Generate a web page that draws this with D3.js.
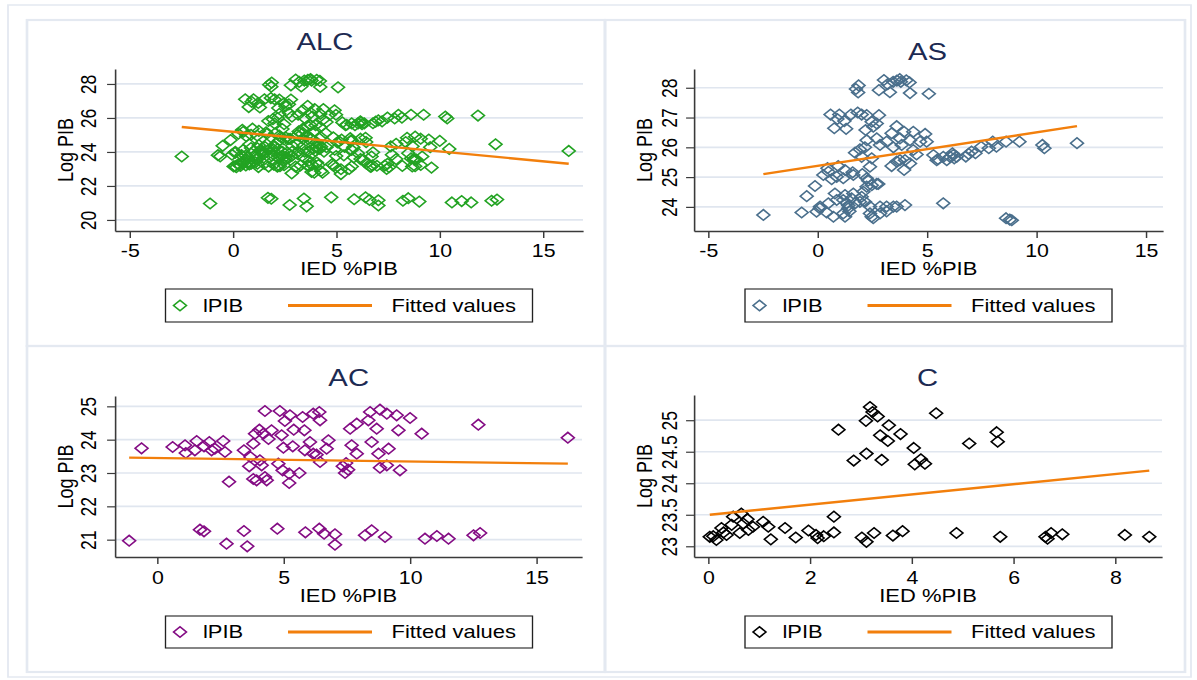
<!DOCTYPE html>
<html>
<head>
<meta charset="utf-8">
<script src="https://cdn.jsdelivr.net/npm/d3@7"></script>
<style>
body{margin:0;background:#fff;}
svg{display:block;}
text{font-family:"Liberation Sans",Arial,sans-serif;}
</style>
</head>
<body>
<svg id="chart"></svg>
<script>

// ---- data (IED %PIB, Log PIB) ----
var asPoints = [
  [1.87,28.08],[1.75,27.96],[1.85,27.84],[2.80,27.92],[3.03,28.26],[3.20,28.12],[3.30,27.85],[3.45,28.20],
  [3.62,28.24],[3.75,28.29],[3.80,28.20],[4.05,28.25],[4.20,28.18],[4.22,27.82],[5.08,27.80],
  [0.59,27.10],[0.76,26.64],[0.99,27.10],[1.22,26.88],[1.30,26.62],[1.52,27.10],[1.83,27.17],[2.01,27.10],
  [2.24,27.08],[2.19,26.58],[2.47,26.86],[2.54,26.69],[2.80,27.08],[2.70,26.80],[0.90,26.95],
  [3.61,26.71],[3.38,26.47],[3.95,26.52],[4.37,26.52],[4.91,26.45],
  [2.24,26.24],[2.70,26.30],[3.15,26.19],[3.76,26.30],[4.22,26.24],[4.68,26.19],[4.98,26.19],
  [1.93,25.93],[2.16,26.00],[2.85,26.08],[3.46,26.00],[3.84,26.08],[4.37,25.91],[4.52,25.76],[5.29,25.74],
  [5.74,25.68],[6.20,25.74],[6.35,25.68],
  [1.71,25.82],[2.01,25.68],[2.47,25.63],[3.76,25.57],[3.99,25.57],[5.44,25.57],[5.90,25.57],[6.05,25.68],
  [0.94,25.37],[1.25,25.24],[2.39,25.35],[3.38,25.37],[3.61,25.52],[3.95,25.24],[4.22,25.46],
  [0.26,25.07],[0.49,25.18],[0.87,25.01],[1.17,24.96],[1.63,25.07],[2.24,24.96],[2.47,24.73],[2.77,24.77],
  [2.24,24.68],[0.64,24.93],[1.60,25.16],[2.04,25.10],[2.31,24.88],[0.45,25.30],
  [-0.12,24.70],[-0.50,24.36],[0.79,24.45],[1.25,24.40],[1.63,24.45],[2.09,24.51],[2.01,24.34],[2.70,24.77],
  [0.11,24.01],[0.49,24.12],[0.87,24.23],[1.17,24.23],[1.33,24.12],[1.55,24.29],[1.71,24.12],[1.93,24.17],
  [2.16,24.17],[2.39,24.01],[2.85,24.01],[3.15,24.01],[3.46,24.01],[3.61,24.01],[3.99,24.06],[5.74,24.12],
  [1.40,24.05],[1.40,23.95],[1.45,23.85],
  [-2.48,23.73],[-0.73,23.81],[-0.05,23.84],[0.41,23.81],[0.72,23.67],[1.17,23.78],[1.25,23.67],[2.39,23.78],
  [2.47,23.67],[2.54,23.62],[2.85,23.78],[3.15,23.85],[0.10,23.95],
  [8.61,23.62],[8.78,23.57],[8.87,23.55],
  [6.16,25.80],[6.24,25.63],[6.77,25.69],[7.03,25.86],[7.21,25.80],[7.47,26.02],[7.82,25.97],[8.00,26.19],
  [8.17,26.02],[8.61,26.19],[9.22,26.19],[10.27,26.08],[10.36,25.97],[11.85,26.14],[5.50,25.60],[6.90,25.78]
];

var acPoints = [
  [-1.11,20.97],[-0.62,23.74],[0.61,23.78],[1.10,23.83],[1.13,23.60],[1.56,23.96],[1.49,23.68],[1.85,23.80],
  [2.06,23.93],[2.28,23.73],[2.15,23.68],[2.61,23.96],[2.68,23.63],[2.84,22.74],[1.69,21.30],[1.85,21.25],
  [2.74,20.88],[3.43,21.26],[3.56,20.80],[3.43,23.68],[3.69,23.48],[3.64,23.20],[3.80,23.88],[3.87,24.18],
  [4.04,24.30],[3.80,22.82],[3.93,22.78],[4.26,22.88],[4.33,22.78],[4.20,24.18],[4.26,24.86],[4.13,23.23],
  [4.06,23.38],[4.52,24.28],[4.85,24.86],[4.92,24.13],[4.99,23.76],[4.75,21.33],[4.79,23.28],[5.25,24.73],
  [5.05,24.56],[4.96,23.08],[5.22,22.98],[5.22,22.70],[5.62,23.00],[5.36,23.80],[5.75,24.68],[5.82,24.28],
  [5.84,23.68],[6.04,23.93],[5.86,21.22],[6.17,24.78],[6.41,24.83],[6.44,24.58],[6.41,21.33],[6.60,21.18],
  [6.44,23.33],[6.17,23.58],[6.77,23.98],[6.70,23.73],[7.03,21.16],[7.03,20.85],[7.34,23.20],[7.43,23.00],
  [7.47,23.30],[7.63,24.33],[7.69,23.83],[4.40,24.02],[5.40,24.30],[6.30,23.55],[7.55,23.10],
  [7.89,24.48],[8.35,24.58],[8.42,24.83],[8.81,24.90],[9.08,24.78],[9.47,24.73],[10.00,24.65],[8.68,24.33],
  [9.54,24.28],[10.46,24.18],[8.48,23.93],[9.15,23.73],[7.89,23.58],[8.75,23.58],[8.81,23.16],[9.08,23.23],
  [9.60,23.08],[8.22,21.13],[8.48,21.28],[9.01,21.08],[10.59,21.03],[11.06,21.11],[11.52,21.03],[12.51,21.13],
  [12.77,21.20],[12.70,24.45],[16.24,24.06]
];

var cPoints = [
  [0.03,23.15],[0.10,23.16],[0.16,23.10],[0.26,23.29],[0.36,23.18],[0.46,23.34],[0.49,23.47],[0.62,23.21],
  [0.69,23.36],[0.79,23.26],[0.77,23.43],[0.88,23.31],[1.08,23.39],[1.18,23.31],[1.23,23.11],[1.51,23.29],
  [1.72,23.14],[1.97,23.25],[2.12,23.18],[2.15,23.13],[2.27,23.16],[2.47,23.47],[2.47,23.22],[3.02,23.14],
  [3.11,23.07],[3.26,23.21],[3.63,23.17],[3.82,23.24],[4.88,23.21],[0.65,23.52],[0.30,23.22],
  [3.18,25.21],[3.23,25.13],[3.33,25.06],[3.10,24.99],[3.55,24.92],[3.78,24.78],[3.38,24.76],[3.53,24.67],
  [4.04,24.56],[3.11,24.47],[2.86,24.36],[3.41,24.37],[4.06,24.30],[4.18,24.38],[4.26,24.31],[4.48,25.11],
  [5.13,24.63],[2.56,24.85],[5.67,24.81],[5.69,24.66],
  [5.74,23.15],[6.63,23.15],[6.67,23.12],[6.74,23.21],[6.96,23.19],[8.19,23.18],[8.67,23.15]
];

// ALC is the whole region: South America + Central America + Caribbean
var alcPoints = asPoints.concat(acPoints, cPoints);

// fitted values, read at the ends of each line
var alcFit = [[-2.48,25.47],[16.24,23.31]];
var asFit  = [[-2.48,25.10],[11.85,26.71]];
var acFit  = [[-1.11,23.46],[16.24,23.28]];
var cFit   = [[0.03,23.50],[8.67,24.20]];

var alcXTicks = [-5,0,5,10,15], alcYTicks = [20,22,24,26,28];
var asXTicks  = [-5,0,5,10,15], asYTicks  = [24,25,26,27,28];
var acXTicks  = [0,5,10,15],    acYTicks  = [21,22,23,24,25];
var cXTicks   = [0,2,4,6,8],    cYTicks   = [23,23.5,24,24.5,25];

// ---- drawing ----
// the original graph is stretched sideways, so draw in a narrower box and stretch it
var S = 1.22;
var W = 1197, H = 680;
var sx = function(x){ return x / S; };

var svg = d3.select("#chart")
    .attr("width",W)
    .attr("height",H)
    .attr("viewBox","0 0 "+(W/S)+" "+H)
    .attr("preserveAspectRatio","none");

svg.append("rect")
    .attr("x",sx(8)).attr("y",5)
    .attr("width",sx(1191)-sx(8)).attr("height",672)
    .attr("fill","none").attr("stroke","#e4e9f1").attr("stroke-width",1.5);

var diamond = function(r){
    return "M0,"+(-r)+"L"+r+",0L0,"+r+"L"+(-r)+",0Z";
};
var FIT = "#f27f0c";
var GRID = "#e0e6ef";
var AX = "#3a3a3a";

var drawPanel = function(cfg)
{
    var p = cfg.plot;
    var g = svg.append("g");

    g.append("rect")
        .attr("x",sx(cfg.box[0])).attr("y",cfg.box[1])
        .attr("width",sx(cfg.box[2])-sx(cfg.box[0])).attr("height",cfg.box[3]-cfg.box[1])
        .attr("fill","none").attr("stroke","#e4e9f1").attr("stroke-width",2.2);

    var xScale = d3.scaleLinear().domain(cfg.xDomain).range([sx(p.left),sx(p.right)]);
    var yScale = d3.scaleLinear().domain(cfg.yDomain).range([p.bottom,p.top]);

    g.selectAll(".grid")
        .data(cfg.yTicks)
        .enter()
        .append("line")
        .attr("x1",xScale.range()[0]).attr("x2",xScale.range()[1])
        .attr("y1",function(d){return yScale(d);})
        .attr("y2",function(d){return yScale(d);})
        .attr("stroke",GRID).attr("stroke-width",1.7);

    g.append("g")
        .selectAll("path")
        .data(cfg.points)
        .enter()
        .append("path")
        .attr("d",diamond(5.3))
        .attr("transform",function(d){return "translate("+xScale(d[0])+","+yScale(d[1])+")";})
        .attr("fill","none")
        .attr("stroke",cfg.color)
        .attr("stroke-width",1.45);

    var line = d3.line()
        .x(function(d){return xScale(d[0]);})
        .y(function(d){return yScale(d[1]);});
    g.append("path")
        .datum(cfg.fit)
        .attr("d",line)
        .attr("fill","none").attr("stroke",FIT).attr("stroke-width",2.4);

    // x axis
    var xg = g.append("g")
        .attr("transform","translate(0,"+p.bottom+")")
        .call(d3.axisBottom(xScale).tickValues(cfg.xTicks).tickSize(7).tickSizeOuter(0).tickFormat(String));
    xg.select(".domain").attr("stroke",AX).attr("stroke-width",1.3);
    xg.selectAll(".tick line").attr("stroke",AX).attr("stroke-width",1.2);
    xg.selectAll(".tick text")
        .attr("y",cfg.xTickY-p.bottom).attr("dy",null)
        .attr("font-size",17.5).attr("fill","#000");

    // y axis, labels turned on their side
    var yg = g.append("g")
        .attr("transform","translate("+sx(p.left)+",0)")
        .call(d3.axisLeft(yScale).tickValues(cfg.yTicks).tickSize(6.5).tickSizeOuter(0).tickFormat(String));
    yg.select(".domain").attr("stroke",AX).attr("stroke-width",1.3);
    yg.selectAll(".tick line").attr("stroke",AX).attr("stroke-width",1.2);
    yg.selectAll(".tick text")
        .attr("x",0).attr("dy",null)
        .attr("text-anchor","middle")
        .attr("font-size",17.5).attr("fill","#000")
        .attr("transform","translate("+(sx(cfg.yTickX)-sx(p.left))+",0) rotate(-90)");

    // labels
    g.append("text")
        .text(cfg.name)
        .attr("x",sx(cfg.title[0])).attr("y",cfg.title[1])
        .attr("text-anchor","middle").attr("font-size",24).attr("fill","#1c2a52");
    g.append("text")
        .text("IED %PIB")
        .attr("x",sx((p.left+p.right)/2)).attr("y",cfg.xTitleY)
        .attr("text-anchor","middle").attr("font-size",18).attr("fill","#000");
    g.append("text")
        .text("Log PIB")
        .attr("transform","translate("+sx(cfg.yTitleX)+","+((p.top+p.bottom)/2)+") rotate(-90)")
        .attr("text-anchor","middle").attr("font-size",18).attr("fill","#000");

    // legend
    var L = cfg.legend;
    var cy = (L[1]+L[3])/2;
    var lg = g.append("g");
    lg.append("rect")
        .attr("x",sx(L[0])).attr("y",L[1])
        .attr("width",sx(L[2])-sx(L[0])).attr("height",L[3]-L[1])
        .attr("fill","#fff").attr("stroke","#222").attr("stroke-width",1.1);
    lg.append("path")
        .attr("d",diamond(5.3))
        .attr("transform","translate("+sx(L[0]+14.5)+","+cy+")")
        .attr("fill","none").attr("stroke",cfg.color).attr("stroke-width",1.45);
    lg.append("text")
        .text("lPIB")
        .attr("x",sx(L[0]+37.5)).attr("y",cy+6.5)
        .attr("font-size",18).attr("fill","#000");
    lg.append("line")
        .attr("x1",sx(L[0]+122.5)).attr("x2",sx(L[0]+206.5))
        .attr("y1",cy).attr("y2",cy)
        .attr("stroke",FIT).attr("stroke-width",2.8);
    lg.append("text")
        .text("Fitted values")
        .attr("x",sx(L[0]+226)).attr("y",cy+6.5)
        .attr("font-size",18).attr("fill","#000");
};

drawPanel({
    name:"ALC", points:alcPoints, fit:alcFit, color:"#22a322",
    xTicks:alcXTicks, yTicks:alcYTicks,
    xDomain:[-5.71,16.93], yDomain:[19.35,28.88],
    box:[27,20,605,346], plot:{left:115,right:583,top:69,bottom:231},
    title:[325,50], xTickY:257, xTitleY:275, yTickX:96, yTitleX:73,
    legend:[165.5,289,532.5,322]
});
drawPanel({
    name:"AS", points:asPoints, fit:asFit, color:"#4a6f8c",
    xTicks:asXTicks, yTicks:asYTicks,
    xDomain:[-5.65,15.78], yDomain:[23.19,28.63],
    box:[605,20,1185,346], plot:{left:694,right:1163,top:69,bottom:231},
    title:[927.5,60], xTickY:257, xTitleY:275, yTickX:677, yTitleX:652,
    legend:[745,289,1112,322]
});
drawPanel({
    name:"AC", points:acPoints, fit:acFit, color:"#840c84",
    xTicks:acXTicks, yTicks:acYTicks,
    xDomain:[-1.67,16.8], yDomain:[20.48,25.31],
    box:[27,346,605,672], plot:{left:115,right:582,top:396,bottom:557},
    title:[348.7,386], xTickY:584, xTitleY:602, yTickX:96, yTitleX:73,
    legend:[165.5,616,532.5,648]
});
drawPanel({
    name:"C", points:cPoints, fit:cFit, color:"#000000",
    xTicks:cXTicks, yTicks:cYTicks,
    xDomain:[-0.28,8.92], yDomain:[22.83,25.40],
    box:[605,346,1185,672], plot:{left:694,right:1162,top:395,bottom:557},
    title:[927.5,386], xTickY:584, xTitleY:602, yTickX:677, yTitleX:652,
    legend:[745,616,1112,648]
});
</script>
</body>
</html>
